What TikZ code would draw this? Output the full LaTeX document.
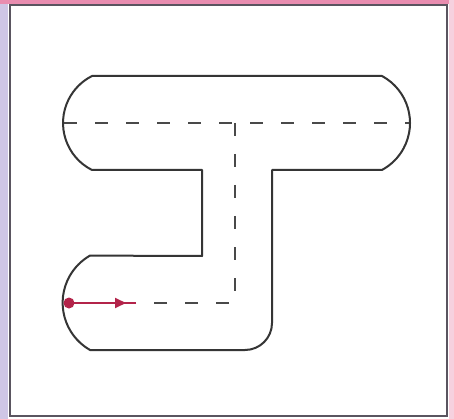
\documentclass[tikz,border=0pt]{standalone}
\usetikzlibrary{arrows.meta}
\definecolor{frameline}{HTML}{5A5560}
\definecolor{lav}{HTML}{CFC6E6}
\definecolor{pinkbar}{HTML}{E98DB0}
\definecolor{outline}{HTML}{353535}
\definecolor{redpath}{HTML}{B3244A}
\tikzset{
  shapeline/.style={draw=outline,line width=2pt,line join=round},
  centreline/.style={draw=outline!90,line width=2.2pt,dash pattern=on 13pt off 18pt},
  redarrow/.style={draw=redpath,line width=1.8pt,-{Triangle[length=11pt,width=10pt]}}
}
\begin{document}
\begin{tikzpicture}[x=1pt,y=1pt]
\useasboundingbox (0,0) rectangle (454,-419);
\fill[white] (0,0) rectangle (454,-419);
% frame
\fill[lav] (0,0) rectangle (8,-419);
\fill[pinkbar] (0,0) rectangle (454,-4);
\fill[pinkbar!40] (449,0) rectangle (454,-419);
\draw[frameline,line width=1.6pt] (10,-5) rectangle (447,-416);
% outline of the T-shaped track
\path[shapeline] (92,-76) -- (382,-76)
  arc[start angle=61.6,end angle=-61.6,radius=53.4]
  -- (272,-170) -- (272,-323)
  arc[start angle=0,end angle=-90,radius=27]
  -- (90,-350)
  arc[start angle=240.2,end angle=119.8,radius=54.4]
  -- (202,-256) -- (202,-170) -- (92,-170)
  arc[start angle=243.3,end angle=116.7,radius=52.6]
  -- cycle;
% centre line
\coordinate (tl) at (64,-123);
\coordinate (tr) at (409,-123);
\coordinate (tj) at (235,-123);
\coordinate (bc) at (235,-303);
\coordinate (bl) at (64,-303);
\coordinate (start) at (69,-303);
\coordinate (tip) at (126,-303);
\draw[centreline] (tl) -- (tr);
\draw[centreline] (tj) -- (bc) -- (bl);
\fill[white] (66,-297) rectangle (128,-309);
\draw[redpath,line width=1.8pt] (start) -- (136,-303);
\draw[redarrow] (start) -- (tip);
\fill[redpath] (start) circle (5.5pt);
\end{tikzpicture}
\end{document}
